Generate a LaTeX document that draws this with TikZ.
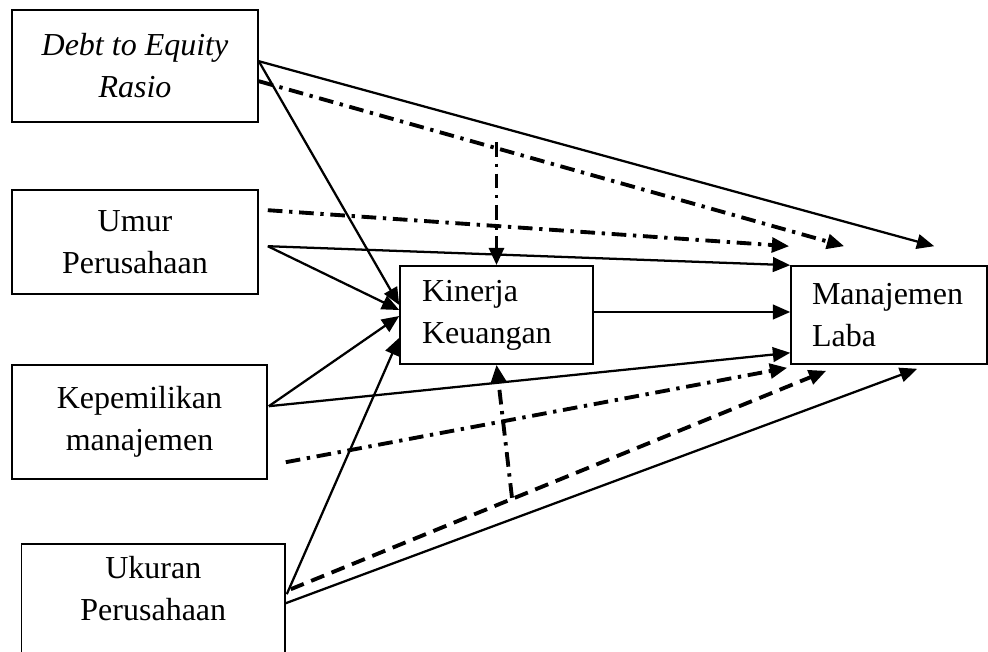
\documentclass[tikz,border=0pt]{standalone}
\usepackage{fontspec}
\setmainfont{Liberation Serif}
\usepackage{tikz}
\usetikzlibrary{calc, arrows.meta}

\begin{document}
\begin{tikzpicture}[x=0.75pt, y=-0.75pt,
	font=\fontsize{24}{31.5}\selectfont,
	var/.style={draw, line width=1.2pt, align=center, inner sep=0pt},
	res/.style={draw, line width=1.2pt, align=left, inner ysep=0pt},
	lnk/.style={line width=1.7pt, -{Triangle[length=13pt, width=11pt]}},
	ddline/.style={lnk, line width=2.9pt, dash pattern=on 11pt off 5pt on 2.5pt off 5pt},
	dsline/.style={lnk, line width=2.9pt, dash pattern=on 10.5pt off 6pt}]
	\useasboundingbox (0,0) rectangle (988,652);
	% independent variables
	\node[name=der, var, minimum width=184.5pt, minimum height=84pt] at (135,66) {\textit{Debt to Equity}\\\textit{Rasio}};
	\node[name=umur, var, minimum width=184.5pt, minimum height=78pt] at (135,242) {Umur\\Perusahaan};
	\node[name=kep, var, minimum width=191.25pt, minimum height=85.5pt] at (139.5,422) {Kepemilikan\\manajemen};
	\node[name=ukuran, var, minimum width=197.5pt, minimum height=117pt,
	label={[anchor=north, yshift=-6.3pt, align=center]90:{Ukuran\\Perusahaan}}] at (153.3,622) {};
	% intervening and dependent
	\node[name=kinerja, res, inner xsep=16.5pt, text width=111.75pt, minimum height=73.5pt] at (496.5,315) {Kinerja\\Keuangan};
	\node[name=manaj, res, inner xsep=15.75pt, text width=115.5pt, minimum height=73.5pt] at (889,315) {Manajemen\\Laba};

	\draw[lnk] ($(der.north east)+(0,52)$) -- ($(manaj.north west)+(144,-19)$);
	\draw[ddline] ($(der.north east)+(0,72)$) -- ($(manaj.north west)+(54,-19)$);
	\draw[lnk] ($(der.north east)+(0,52)$) -- ($(kinerja.west)+(0,-10)$);

	\draw[ddline] ($(umur.north east)+(9,21)$) -- ($(manaj.north west)+(-1,-19)$);
	\draw[lnk] ($(umur.north east)+(9,57)$) -- (manaj.north west);
	\draw[lnk] ($(umur.north east)+(9,57)$) -- ($(kinerja.west)+(0,-5)$);

	\draw[lnk] ($(kep.north east)+(1,42)$) -- ($(kinerja.west)+(0,1)$);
	\draw[lnk] ($(kep.north east)+(1,42)$) -- ($(manaj.south west)+(0,-12)$);
	\draw[ddline] ($(kep.north east)+(18,98)$) -- ($(manaj.south west)+(-3,3)$);

	\draw[lnk] ($(ukuran.north east)+(1,51)$) -- ($(kinerja.south west)+(0,-27)$);
	\draw[dsline] ($(ukuran.north east)+(5,46)$) -- ($(manaj.south west)+(36,6)$);
	\draw[lnk] ($(ukuran.north east)+(0,60)$) -- ($(manaj.south west)+(127,4)$);

	\draw[lnk] ($(kinerja.east)+(0,-3)$) -- ($(manaj.west)+(0,-3)$);
	% moderating paths
	\draw[ddline] ($(kinerja.north)+(0,-123)$) -- (kinerja.north);
	\draw[ddline] ($(kinerja.south)+(15.5,133)$) -- (kinerja.south);
\end{tikzpicture}
\end{document}
